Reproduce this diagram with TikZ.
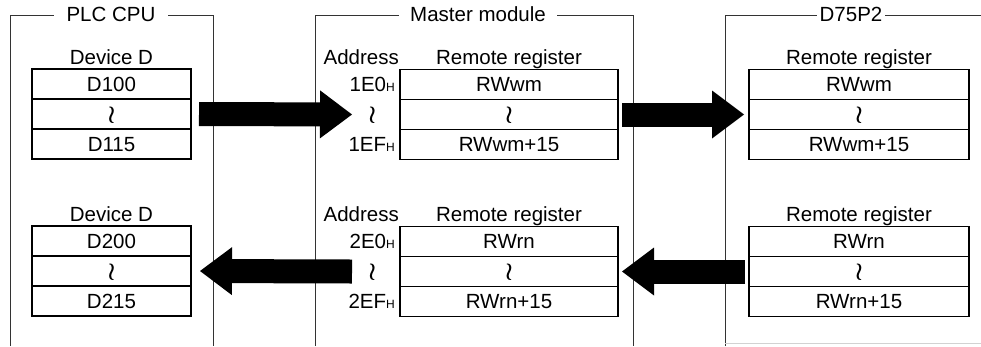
\documentclass[tikz,border=0pt]{standalone}
\usepackage{fontspec}
\setmainfont{Liberation Sans}
\usetikzlibrary{arrows.meta,positioning}
\tikzset{
  txt/.style={font=\fontsize{20.5}{24}\selectfont, inner sep=0pt, text height=14.5pt, text depth=0pt},
  cell/.style={txt, draw, line width=1.6pt, minimum height=30pt, outer sep=0pt},
  frame/.style={line width=0.9pt, black!80},
  ttl/.style={txt, fill=white, inner xsep=#1},
  bigarrow/.style={line width=24pt, -{Triangle[length=32pt,width=48pt,line width=0pt]}},
}
\newcommand{\hsub}{{\fontsize{12}{12}\selectfont H}}
\newcommand{\wavy}{{\fontsize{25}{25}\selectfont\boldmath$\wr$}}

\begin{document}
\begin{tikzpicture}[x=1pt,y=-1pt]
  \useasboundingbox (0,0) rectangle (981,346);
  \def\regtab#1#2#3#4#5{%
    \node[cell, minimum width=#3] (#1a) at #2 {#4};
    \node[cell, minimum width=#3, below=0pt of #1a] (#1b) {\wavy};
    \node[cell, minimum width=#3, below=0pt of #1b] (#1c) {#5};
  }

  % frames
  \draw[frame] (10,346) -- (10,15) -- (213,15) -- (213,346);
  \draw[frame] (315,346) -- (315,15) -- (633,15) -- (633,346);
  \draw[frame] (725,346) -- (725,15) -- (981,15);
  \draw[gray!35, line width=0.8pt] (725,343) -- (981,343);
  \node[ttl=13pt] (plcttl) at (111,14) {PLC CPU};
  \node[ttl=11.5pt] (mstttl) at (478,14) {Master module};
  \node[ttl=2.5pt] (dttl) at (851,14) {D75P2};

  % tables
  \regtab{plc1}{(111.5,84)}{159pt}{D100}{D115}
  \regtab{plc2}{(111.5,241)}{159pt}{D200}{D215}
  \regtab{m1}{(509,84.5)}{218pt}{RWwm}{RWwm+15}
  \regtab{m2}{(509,241.5)}{218pt}{RWrn}{RWrn+15}
  \regtab{d1}{(859,84.5)}{220pt}{RWwm}{RWwm+15}
  \regtab{d2}{(859,241.5)}{220pt}{RWrn}{RWrn+15}

  % headers
  \node[txt, anchor=base] (plc1hd) at ([yshift=5pt]plc1a.north) {Device D};
  \node[txt, anchor=base] (plc2hd) at ([yshift=5pt]plc2a.north) {Device D};
  \foreach \t in {m1,m2,d1,d2}
    \node[txt, anchor=base] (\t hd) at ([yshift=5pt]\t a.north) {Remote register};
  \node[txt, anchor=base east] (m1adr) at ([xshift=-1pt,yshift=5pt]m1a.north west) {Address};
  \node[txt, anchor=base east] (m2adr) at ([xshift=-1pt,yshift=5pt]m2a.north west) {Address};

  % addresses
  \node[txt, anchor=east] (m1s) at ([xshift=-5pt]m1a.west) {1E0\hsub};
  \node[txt] (m1w) at (m1s |- m1b) {\wavy};
  \node[txt, anchor=east] (m1e) at ([xshift=-5pt]m1c.west) {1EF\hsub};
  \node[txt, anchor=east] (m2s) at ([xshift=-5pt]m2a.west) {2E0\hsub};
  \node[txt] (m2w) at (m2s |- m2b) {\wavy};
  \node[txt, anchor=east] (m2e) at ([xshift=-5pt]m2c.west) {2EF\hsub};

  % transfer arrows
  \draw[bigarrow] ([xshift=8pt]plc1b.east) -- ([xshift=-48pt]m1b.west);
  \draw[bigarrow] ([xshift=4pt]m1b.east) -- ([xshift=-5pt]d1b.west);
  \draw[bigarrow] ([xshift=-48pt]m2b.west) -- ([xshift=9pt]plc2b.east);
  \draw[bigarrow] ([xshift=-4pt]d2b.west) -- ([xshift=4pt]m2b.east);
\end{tikzpicture}
\end{document}
